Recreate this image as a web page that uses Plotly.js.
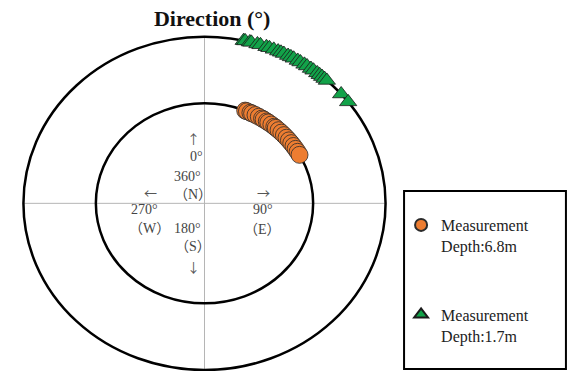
<!DOCTYPE html>
<html>
<head>
<meta charset="utf-8">
<script src="https://cdn.plot.ly/plotly-3.0.1.min.js"></script>
<style>
  html, body { margin: 0; padding: 0; background: #fff; }
  #plot { width: 575px; height: 371px; }
</style>
</head>
<body>
<div id="plot"></div>
<script>
// Directions in degrees, clockwise from north
const dirDepth68 = [22, 23, 25, 26, 28, 30, 32, 33, 35, 36, 38, 40, 41, 43, 45, 47, 49, 51, 53, 55, 57, 59, 61];
const dirDepth17 = [12.5, 13, 14.5, 15, 17, 18, 20, 21, 22.5, 24, 25, 26, 27.5, 28.5, 29.5, 31, 32, 33.5, 34.5,
                    36, 37, 38.5, 39.5, 40.5, 41.5, 42.5, 49, 52.5];
const seriesNames = ["Measurement<br>Depth:6.8m", "Measurement<br>Depth:1.7m"];
// ring radius for each depth (outer ring = 1)
const ringInner = 0.6;
const ringOuter = 1;

// compass labels: text, x, y
const compassText = ["↑", "0°", "360°", "（N）", "←", "270°", "（W）", "180°", "（S）", "↓", "→", "90°", "（E）"];
const compassX = [-0.061, -0.046, -0.092, -0.066, -0.298, -0.331, -0.304, -0.092, -0.065, -0.061, 0.326, 0.322, 0.322];
const compassY = [0.392, 0.283, 0.161, 0.051, 0.065, -0.035, -0.149, -0.149, -0.259, -0.378, 0.065, -0.039, -0.155];

function toXY(dirs, r) {
  const rad = dirs.map(d => d * Math.PI / 180);
  return {
    x: rad.map(a => r * Math.sin(a)),
    y: rad.map(a => r * Math.cos(a))
  };
}

const p68 = toXY(dirDepth68, ringInner);
const p17 = toXY(dirDepth17, ringOuter);

const serif = "Liberation Serif, Times New Roman, Noto Sans CJK JP, serif";
const arrows = "←→↑↓";

const data = [
  {
    type: "scatter", mode: "markers",
    x: p68.x, y: p68.y,
    name: seriesNames[0], legendgroup: "a",
    marker: { symbol: "circle", size: 17, color: "#ED7D31", line: { color: "#2b2b2b", width: 0.8 } },
    hoverinfo: "skip"
  },
  {
    type: "scatter", mode: "markers",
    x: p17.x, y: p17.y,
    name: seriesNames[1], legendgroup: "b",
    marker: { symbol: "triangle-up", size: 15, color: "#12A249", line: { color: "#1b1b1b", width: 0.8 } },
    hoverinfo: "skip"
  }
];

const annotations = compassText.map((t, i) => {
  const isArrow = arrows.includes(t);
  return {
    x: compassX[i], y: compassY[i], xref: "x", yref: "y",
    text: t, showarrow: false,
    font: isArrow
      ? { family: "Noto Sans CJK JP, DejaVu Sans, sans-serif", size: 13, color: "#555" }
      : { family: serif, size: 14, color: "#444" }
  };
});

const layout = {
  width: 575, height: 371,
  margin: { l: 18, r: 184, t: 30, b: 0 },
  paper_bgcolor: "#fff", plot_bgcolor: "#fff",
  title: {
    text: "<b>Direction (°)</b>",
    x: 0.369, xanchor: "center", xref: "container",
    y: 0.951, yanchor: "middle", yref: "container",
    font: { family: serif, size: 22, color: "#111" }
  },
  xaxis: { range: [-1.03, 1.03], visible: false, fixedrange: true },
  yaxis: { range: [-1.006, 1.04], visible: false, fixedrange: true },
  showlegend: true,
  legend: {
    x: 1.027, xanchor: "left", y: 0.478, yanchor: "top",
    font: { family: serif, size: 16, color: "#222" },
    traceorder: "grouped", tracegroupgap: 45,
    valign: "top", itemsizing: "constant",
    bgcolor: "rgba(0,0,0,0)", borderwidth: 0
  },
  shapes: [
    { type: "line", xref: "x", yref: "y", x0: -ringOuter, x1: ringOuter, y0: 0, y1: 0, line: { color: "#b5b5b5", width: 1 }, layer: "below" },
    { type: "line", xref: "x", yref: "y", x0: 0, x1: 0, y0: -ringOuter, y1: ringOuter, line: { color: "#b5b5b5", width: 1 }, layer: "below" },
    { type: "circle", xref: "x", yref: "y", x0: -ringOuter, x1: ringOuter, y0: -ringOuter, y1: ringOuter, line: { color: "#000", width: 2.5 }, layer: "below" },
    { type: "circle", xref: "x", yref: "y", x0: -ringInner, x1: ringInner, y0: -ringInner, y1: ringInner, line: { color: "#000", width: 2.5 }, layer: "below" },
    { type: "rect", xref: "paper", yref: "paper", x0: 1.035, x1: 1.469, y0: 0.006, y1: 0.528, line: { color: "#000", width: 2 } }
  ],
  annotations: annotations
};

Plotly.newPlot("plot", data, layout, { displayModeBar: false, staticPlot: true });
</script>
</body>
</html>
